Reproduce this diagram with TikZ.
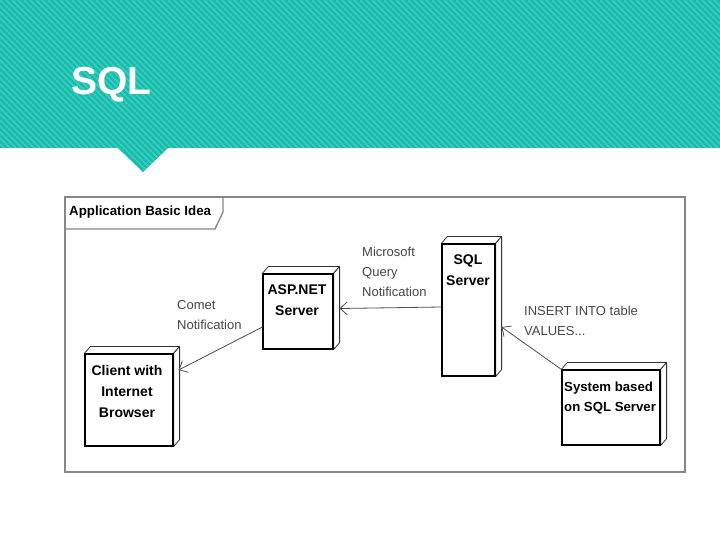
\documentclass[tikz,border=0pt]{standalone}
\usepackage{fontspec}
\setmainfont{Liberation Sans}
\usetikzlibrary{arrows.meta,calc}
\definecolor{tealbase}{RGB}{22,188,172}
\definecolor{tealstripe}{RGB}{62,204,191}
\definecolor{framegray}{RGB}{135,135,135}
\definecolor{labelgray}{RGB}{70,70,70}
\tikzset{
  umlbox/.style={draw=black, line width=1.2pt, fill=white, inner sep=0pt},
  sideface/.style={draw=black!80, line width=0.8pt, fill=white, line join=round},
  boxtext/.style={font=\fontsize{14}{21}\selectfont\bfseries, inner sep=0pt, align=center},
  conlabel/.style={font=\fontsize{13}{20}\selectfont, text=labelgray, inner sep=0pt, align=left, anchor=west},
  conn/.style={draw=black!70, line width=0.8pt, -{Straight Barb[length=7pt,width=13pt,line width=0.8pt]}},
}
\begin{document}
\begin{tikzpicture}[x=1pt,y=-1pt]
\useasboundingbox (0,0) rectangle (720,540);
\fill[white] (0,0) rectangle (720,540);
% header band
\begin{scope}
  \clip (0,0) -- (720,0) -- (720,148) -- (168,148) -- (143,172) -- (118,148) -- (0,148) -- cycle;
  \fill[tealbase] (0,0) rectangle (720,172);
  \foreach \i in {-180,-174,...,720} {
    \draw[tealstripe, line width=1.6pt] (\i,0) -- ++(180,180);
  }
\end{scope}
\node[text=white, font=\fontsize{39}{39}\selectfont\bfseries, inner sep=0pt, anchor=west] (title) at (71,85) {SQL};
% frame
\node[draw=framegray, line width=1.6pt, minimum width=620, minimum height=275, inner sep=0pt] (frame) at (375,334.5) {};
\draw[draw=framegray, line width=1.4pt] (65,229) -- (215,229) -- (223,212) -- (223,197);
\node[font=\fontsize{13.3}{16}\selectfont\bfseries, inner sep=0pt, anchor=west] (tab) at (69,212) {Application Basic Idea};
% nodes
\node[umlbox, minimum width=70, minimum height=75] (asp) at (298,311.5) {};
\node[umlbox, minimum width=53, minimum height=132] (sql) at (468.5,310) {};
\node[umlbox, minimum width=88, minimum height=92] (client) at (129,400) {};
\node[umlbox, minimum width=98, minimum height=75] (sys) at (611,407.5) {};
\foreach \n in {asp,sql,client,sys} {
  \draw[sideface] (\n.north west) -- ++(6,-7) -- ($(\n.north east)+(6,-7)$) -- (\n.north east) -- cycle;
  \draw[sideface] (\n.north east) -- ($(\n.north east)+(6,-7)$) -- ($(\n.south east)+(6,-7)$) -- (\n.south east) -- cycle;
  \draw[black, line width=1.2pt] (\n.north west) rectangle (\n.south east);
}
\node[boxtext] (asptext) at (297,300) {ASP.NET\\Server};
\node[boxtext] (sqltext) at (468,270) {SQL\\Server};
\node[boxtext] (clienttext) at (127,391) {Client with\\Internet\\Browser};
\node[boxtext, font=\fontsize{13.2}{20}\selectfont\bfseries, align=left, anchor=west] (systext) at (564,398) {System based\\on SQL Server};
% connectors
\draw[conn] ([yshift=3pt]sql.west) -- ([xshift=6pt,yshift=3pt]asp.east);
\draw[conn] (sys.north west) -- ([xshift=6pt,yshift=-17pt]sql.east);
\draw[conn] ([yshift=-15.5pt]asp.west) -- ([xshift=5pt,yshift=30pt]client.east);
% connector labels
\node[conlabel] (comet) at (177,315) {Comet\\Notification};
\node[conlabel] (msq) at (362,272) {Microsoft\\Query\\Notification};
\node[conlabel] (ins) at (524,321) {INSERT INTO table\\VALUES...};
\end{tikzpicture}
\end{document}
